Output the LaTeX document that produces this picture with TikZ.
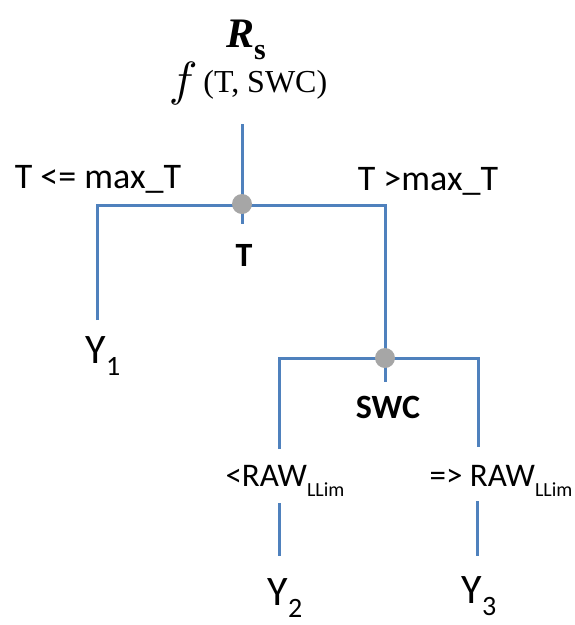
\documentclass[tikz,border=0pt]{standalone}
\usepackage{graphicx}
\usepackage{fontspec}
\setmainfont{Carlito}
\newfontfamily\tms{Liberation Serif}
\definecolor{lineblue}{HTML}{4F81BD}
\definecolor{dotgray}{HTML}{A6A6A6}
\newcommand{\fsz}[1]{\fontsize{#1}{#1}\selectfont}
\newcommand{\lowsub}[2]{\raisebox{-0.3em}{\fsz{#1}#2}}
\begin{document}
\begin{tikzpicture}[x=1pt,y=1pt,
  branch/.style={draw=lineblue,line width=3pt},
  dotnode/.style={circle,fill=dotgray,inner sep=0pt,minimum size=20pt},
  lbl/.style={inner sep=0pt,font=\fsz{36}},
  var/.style={inner sep=0pt,font=\fsz{34}\bfseries},
  leaf/.style={inner sep=0pt,font=\fsz{42}},
  raw/.style={inner sep=0pt,font=\fsz{33}}]
\useasboundingbox (0,0) rectangle (575,-625);
% title
\node[inner sep=0pt] (rs) at (246,-40) {\tms\fsz{42}\bfseries\itshape R\lowsub{30}{\upshape s}};
\node[inner sep=0pt] (fx) at (248,-83) {\raisebox{-0.6ex}{\scalebox{4.8}{$f$}}\hspace{6pt}{\tms\fsz{32}(T, SWC)}};
% coordinates
\coordinate (top) at (242,-124);
\coordinate (j1) at (242,-204);
\coordinate (s1) at (242,-224);
\coordinate (l1) at (97,-205);
\coordinate (r1) at (385,-205);
\coordinate (l1b) at (97,-320);
\coordinate (j2) at (385,-358);
\coordinate (s2) at (385,-382);
\coordinate (l2) at (279,-358);
\coordinate (r2) at (478,-358);
\coordinate (l2b) at (279,-449);
\coordinate (r2b) at (478,-447);
\coordinate (l3a) at (279,-503);
\coordinate (l3b) at (279,-556);
\coordinate (r3a) at (477,-501);
\coordinate (r3b) at (477,-556);
% branches
\draw[branch] (top) -- (s1);
\draw[branch] (l1b) -- (l1) -- (r1) -- (j2);
\draw[branch] (l2b) -- (l2) -- (r2) -- (r2b);
\draw[branch] (j2) -- (s2);
\draw[branch] (l3a) -- (l3b);
\draw[branch] (r3a) -- (r3b);
\node[dotnode] (d1) at (j1) {};
\node[dotnode] (d2) at (j2) {};
% labels
\node[lbl] (c1) at (98,-179) {T <= max\_T};
\node[lbl] (c2) at (428,-181) {T >max\_T};
\node[var] (vt) at (244,-255) {T};
\node[leaf] (y1) at (103,-356) {Y\lowsub{28}{1}};
\node[var] (vswc) at (388,-407) {SWC};
\node[raw] (c3) at (285,-481) {<RAW\lowsub{20}{LLim}};
\node[raw] (c4) at (501,-481) {=> RAW\lowsub{20}{LLim}};
\node[leaf] (y2) at (285,-598) {Y\lowsub{28}{2}};
\node[leaf] (y3) at (479,-596) {Y\lowsub{28}{3}};
\end{tikzpicture}
\end{document}
